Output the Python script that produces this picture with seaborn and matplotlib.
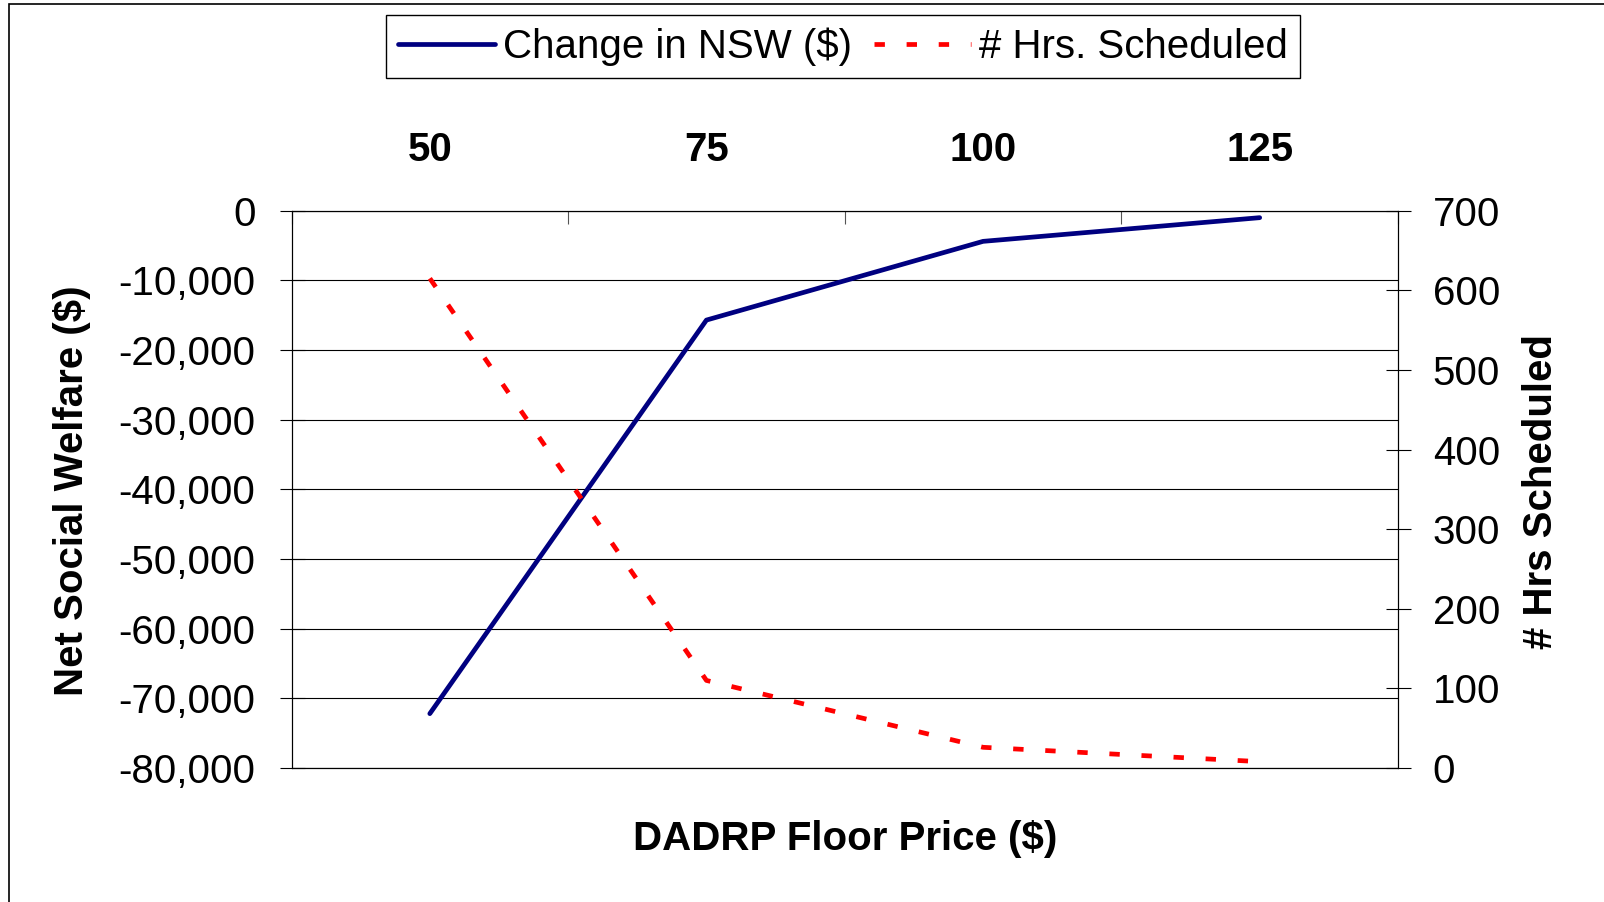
import pandas as pd
import matplotlib
matplotlib.use("Agg")
from matplotlib import pyplot as plt
from matplotlib.ticker import FuncFormatter, MultipleLocator
from matplotlib.patches import Rectangle
import seaborn as sns

# data
floor_prices = [50, 75, 100, 125]
nsw_change = [-72200, -15700, -4400, -1000]
hrs_scheduled = [615, 110, 26, 8]

sns.set_style("white")
plt.rcParams['font.family'] = ['Liberation Sans', 'DejaVu Sans']
plt.rcParams.update({'text.color': 'black', 'axes.labelcolor': 'black',
                     'xtick.color': 'black', 'ytick.color': 'black'})
fs = 29

df = pd.DataFrame({'pos': list(range(len(floor_prices))),
                   'nsw': nsw_change, 'hrs': hrs_scheduled})

W, H = 1604, 902
fig = plt.figure(figsize=(W / 100, H / 100), dpi=100)
ax = fig.add_axes([291.5 / W, 1 - 768 / H, (1398 - 291.5) / W, (768 - 210.7) / H])
ax2 = ax.twinx()

sns.lineplot(data=df, x='pos', y='nsw', ax=ax, color='#000080', lw=3.4,
             label='Change in NSW ($)', legend=False)
sns.lineplot(data=df, x='pos', y='hrs', ax=ax2, color='#FF0000', lw=3.4,
             linestyle=(0, (2.2, 4.6)), label='# Hrs. Scheduled', legend=False)

# x axis: categories on top, ticks between categories
ax.set_xlim(-0.5, len(floor_prices) - 0.5)
ax.xaxis.tick_top()
ax.set_xticks([i - 0.5 for i in range(len(floor_prices) + 1)])
ax.set_xticklabels([])
ax.set_xticks(df['pos'], minor=True)
ax.set_xticklabels([str(p) for p in floor_prices], minor=True,
                   fontsize=fs, fontweight='bold')
ax.tick_params(axis='x', which='major', direction='in', length=9, width=0.8,
               color='#555555', top=True, bottom=False)
ax.tick_params(axis='x', which='minor', length=0, pad=30, top=True,
               bottom=False, labeltop=True, labelbottom=False)

# left axis
ax.set_ylim(-80000, 0)
ax.yaxis.set_major_locator(MultipleLocator(10000))
ax.yaxis.set_major_formatter(FuncFormatter(lambda v, p: f"{v:,.0f}"))
ax.tick_params(axis='y', direction='inout', length=18, width=0.8, pad=17,
               labelsize=fs, left=True, color='black')
ax.grid(axis='y', color='black', lw=0.8)
ax.grid(axis='x', visible=False)

# right axis
ax2.set_ylim(0, 700)
ax2.yaxis.set_major_locator(MultipleLocator(100))
ax2.tick_params(axis='y', direction='inout', length=18, width=0.8, pad=16,
                labelsize=fs, right=True, color='black')
ax2.grid(False)

for a in (ax, ax2):
    for s in a.spines.values():
        s.set_color('black')
        s.set_linewidth(0.8)

ax.xaxis.set_label_position('bottom')
ax.set_xlabel('DADRP Floor Price ($)', fontsize=fs, fontweight='bold', va='center')
ax.xaxis.set_label_coords(0.5, -0.127)
ax.set_ylabel('Net Social Welfare ($)', fontsize=fs, fontweight='bold', va='center')
ax.yaxis.set_label_coords(-0.1987, 0.497)
ax2.set_ylabel('# Hrs Scheduled', fontsize=fs, fontweight='bold', va='center')
ax2.yaxis.set_label_coords(1.129, 0.497)

handles = ax.get_lines()[:1] + ax2.get_lines()[:1]
fig.legend(handles, [h.get_label() for h in handles], loc='center',
           bbox_to_anchor=(843 / W, 1 - 46.5 / H), ncol=2, fontsize=fs,
           frameon=True, fancybox=False, edgecolor='black', framealpha=1,
           handlelength=2.4, handletextpad=0.2, columnspacing=0.55,
           borderpad=0.3)

# outer chart border
fig.patches.append(Rectangle((9.2 / W, -0.1), 1.2, 1 - 4.1 / H + 0.1,
                             transform=fig.transFigure, fill=False,
                             ec='black', lw=1.2))

fig.savefig('out.png', dpi=100)
